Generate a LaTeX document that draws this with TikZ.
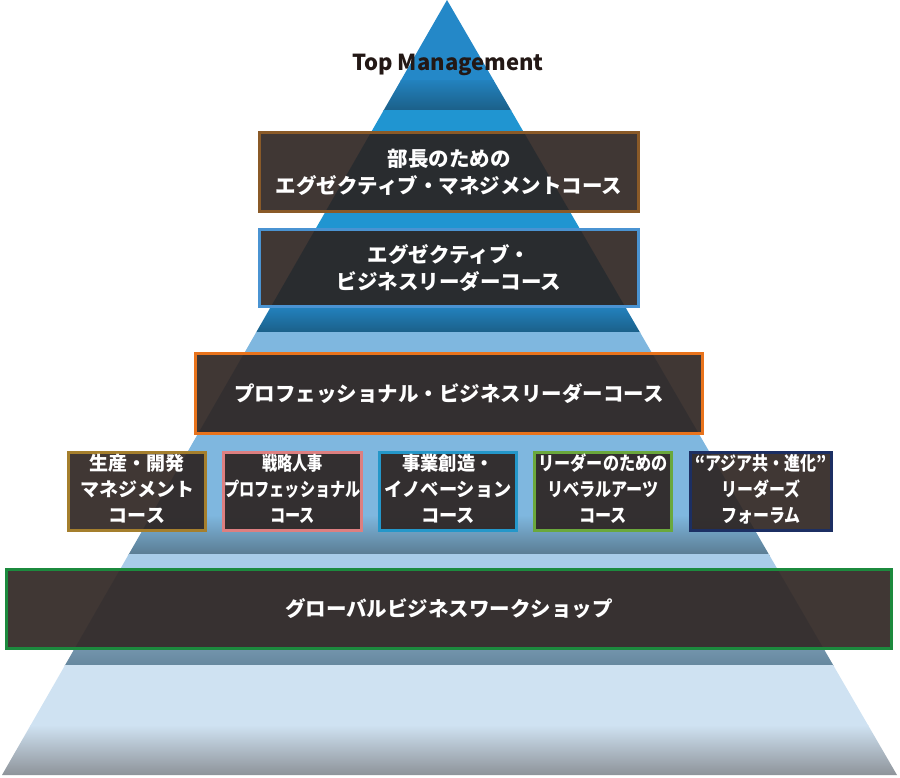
\documentclass[tikz,border=0pt]{standalone}
\usepackage{fontspec}
\usepackage{graphicx}
\newfontfamily\jp{Noto Sans CJK JP}

\definecolor{tipblue}{HTML}{2488C8}
\definecolor{midblue}{HTML}{2095D1}
\definecolor{darkblue}{HTML}{1B6089}
\definecolor{paleblue}{HTML}{7FB7DF}
\definecolor{greyblue}{HTML}{5A7B91}
\definecolor{lightblue}{HTML}{A9CCE8}
\definecolor{iceblue}{HTML}{CFE2F2}
\definecolor{basegrey}{HTML}{8B9096}
\definecolor{boxfill}{HTML}{2B211E}
\definecolor{ink}{HTML}{231815}
\definecolor{lineexec}{HTML}{8A5A28}
\definecolor{linelead}{HTML}{4A93D2}
\definecolor{linepro}{HTML}{E8731C}
\definecolor{lineprod}{HTML}{A57F2D}
\definecolor{linehr}{HTML}{DD7F80}
\definecolor{lineinno}{HTML}{2497C9}
\definecolor{linearts}{HTML}{6AA83C}
\definecolor{lineasia}{HTML}{1C2F63}
\definecolor{lineglobal}{HTML}{1C8A3E}

\begin{document}
\begin{tikzpicture}[x=1pt,y=-1pt]
  \tikzset{course/.style = {draw,line width=3pt,fill=boxfill,fill opacity=0.9,text opacity=1,
      text=white,font=\jp\bfseries\fontsize{20.5}{27}\selectfont,align=center,inner sep=0pt}}
  \tikzset{small/.style = {course,minimum height=78pt,font=\jp\bfseries\fontsize{19}{26}\selectfont}}

  \useasboundingbox (0,0) rectangle (900,777);

  % pyramid bands
  \begin{scope}
    \clip (447,0) -- (897,775) -- (2,775) -- cycle;
    \fill[tipblue] (0,0) rectangle (900,81);
    \shade[top color=tipblue!85!darkblue,bottom color=darkblue] (0,80) rectangle (900,110);
    \fill[midblue] (0,110) rectangle (900,309);
    \shade[top color=tipblue!80!darkblue,bottom color=darkblue] (0,308) rectangle (900,332);
    \fill[paleblue] (0,332) rectangle (900,516);
    \shade[top color=paleblue,bottom color=greyblue] (0,515) rectangle (900,555);
    \fill[lightblue] (0,554) rectangle (900,651);
    \shade[top color=greyblue!70!lightblue,bottom color=greyblue!85!lightblue] (0,650) rectangle (900,665);
    \fill[iceblue] (0,665) rectangle (900,726);
    \shade[top color=iceblue,bottom color=basegrey] (0,725) rectangle (900,777);
  \end{scope}

  \node[font=\jp\bfseries\fontsize{22}{26}\selectfont,text=ink] (top) at (448,65) {Top Management};

  \node[course,draw=lineexec,minimum width=379pt,minimum height=79pt] (exec) at (449,172)
    {部長のための\\エグゼクティブ・マネジメントコース};
  \node[course,draw=linelead,minimum width=379pt,minimum height=77pt] (lead) at (449,268)
    {エグゼクティブ・\\ビジネスリーダーコース};
  \node[course,draw=linepro,minimum width=507pt,minimum height=80pt] (pro) at (449,393.5)
    {プロフェッショナル・ビジネスリーダーコース};

  \foreach \name/\cx/\w/\col/\sx/\txt in {
      prod/137/137/lineprod/1/{生産・開発\\マネジメント\\コース},
      hr/292.5/138/linehr/0.8/{戦略人事\\プロフェッショナル\\コース},
      inno/448/137/lineinno/0.96/{事業創造・\\イノベーション\\コース},
      arts/603/137/linearts/0.85/{リーダーのための\\リベラルアーツ\\コース},
      asia/761/141/lineasia/0.84/{“アジア共・進化”\\リーダーズ\\フォーラム}}
    \node[small,draw=\col,minimum width=\w pt] (\name) at (\cx,491.5)
      {\scalebox{\sx}[1]{\begin{tabular}{@{}c@{}}\txt\end{tabular}}};

  \node[course,draw=lineglobal,minimum width=885pt,minimum height=79pt] (global) at (449,609)
    {グローバルビジネスワークショップ};
\end{tikzpicture}
\end{document}
